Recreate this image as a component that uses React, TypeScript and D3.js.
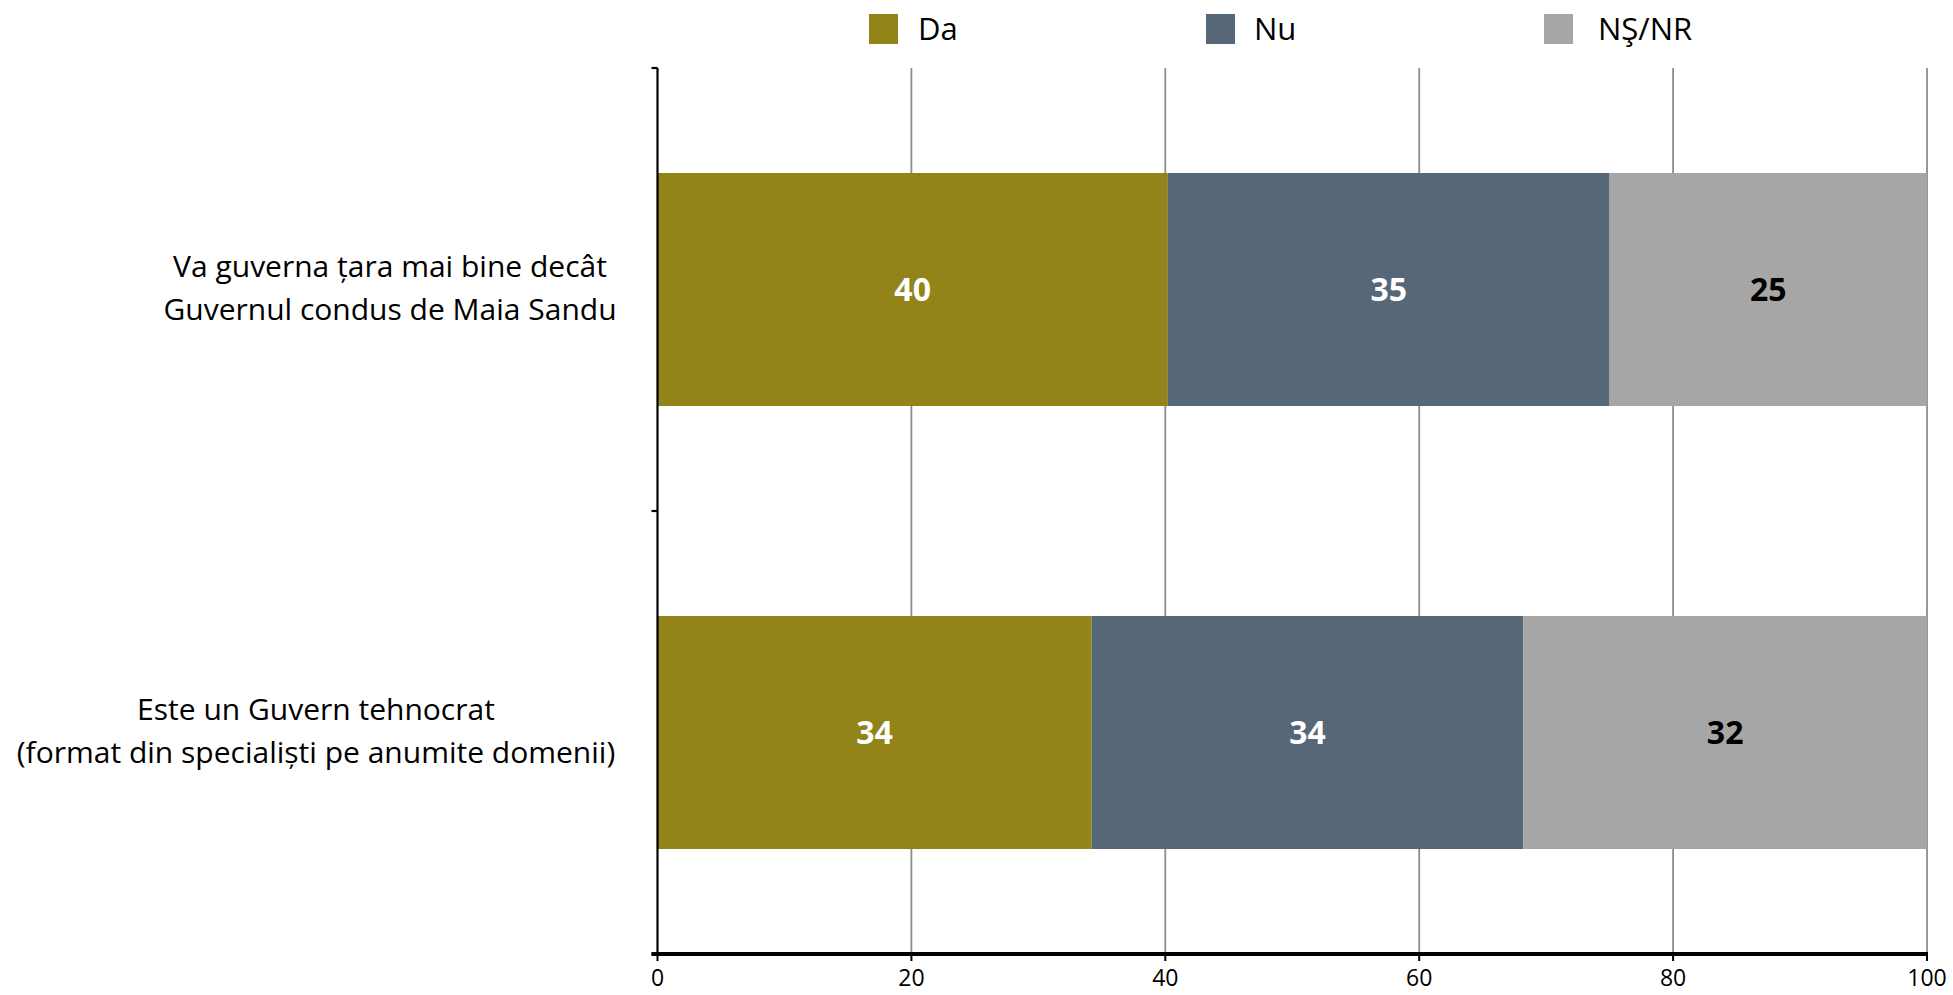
import React from "react";
import * as d3 from "d3";

const categories = [
  ["Va guverna țara mai bine decât", "Guvernul condus de Maia Sandu"],
  ["Este un Guvern tehnocrat", "(format din specialiști pe anumite domenii)"],
];
const seriesNames = ["Da", "Nu", "NŞ/NR"];
const daValues = [40.2, 34.2];
const nuValues = [34.8, 34.0];
const nsnrValues = [25.0, 31.8];
const xTicks = [0, 20, 40, 60, 80, 100];
const colors = ["#938419", "#566777", "#a6a6a6"];
const labelColors = ["#ffffff", "#ffffff", "#000000"];

const W = 1953;
const H = 995;
const FONT = "'Open Sans', 'Liberation Sans', sans-serif";

export default function App() {
  const left = 657.5;
  const right = 1927;
  const top = 68;
  const bottom = 954;

  const x = d3.scaleLinear().domain([0, 100]).range([left, right]);
  const y = d3
    .scaleBand<number>()
    .domain(categories.map((_, i) => i))
    .range([top, bottom])
    .paddingInner(0.474)
    .paddingOuter(0.237);

  const series = [daValues, nuValues, nsnrValues];
  const stackData = categories.map((_, i) => ({
    i,
    Da: daValues[i],
    Nu: nuValues[i],
    "NŞ/NR": nsnrValues[i],
  }));
  const stacked = d3.stack<any>().keys(seriesNames)(stackData);

  const legendX = [869, 1206, 1544];
  const legendTextX = [918, 1254, 1598];
  const sq = 29;

  const bandTicks = [top, (top + bottom) / 2, bottom];

  return (
    <svg
      width={W}
      height={H}
      style={{ position: "absolute", left: 0, top: 0, background: "#fff" }}
      fontFamily={FONT}
    >
      <rect width={W} height={H} fill="#fff" />
      {/* gridlines */}
      {xTicks.slice(1).map((t) => (
        <line
          key={"g" + t}
          x1={x(t)}
          x2={x(t)}
          y1={top}
          y2={bottom}
          stroke="#8c8c8c"
          strokeWidth={1.8}
        />
      ))}
      {/* bars */}
      {stacked.map((s, si) =>
        s.map((d, ci) => (
          <g key={si + "-" + ci}>
            <rect
              x={x(d[0])}
              y={y(ci)!}
              width={x(d[1]) - x(d[0])}
              height={y.bandwidth()}
              fill={colors[si]}
            />
            <text
              x={(x(d[0]) + x(d[1])) / 2}
              y={y(ci)! + y.bandwidth() / 2}
              dy="0.36em"
              textAnchor="middle"
              fontWeight="bold"
              fontSize={32}
              fill={labelColors[si]}
            >
              {d3.format(".0f")(series[si][ci])}
            </text>
          </g>
        ))
      )}
      {/* y axis */}
      <line x1={left} x2={left} y1={top} y2={bottom} stroke="#000" strokeWidth={2.2} />
      {bandTicks.map((t, i) => (
        <line key={"yt" + i} x1={left - 6} x2={left} y1={t} y2={t} stroke="#000" strokeWidth={2.2} />
      ))}
      {/* x axis */}
      <line x1={left - 6} x2={right + 1} y1={bottom} y2={bottom} stroke="#000" strokeWidth={4} />
      {xTicks.map((t) => (
        <g key={"xt" + t}>
          <line x1={x(t)} x2={x(t)} y1={bottom} y2={bottom + 7} stroke="#000" strokeWidth={2} />
          <text x={x(t)} y={978} dy="0.36em" textAnchor="middle" fontSize={23} fill="#000">
            {t}
          </text>
        </g>
      ))}
      {/* category labels */}
      {categories.map((lines, i) => {
        const cy = y(i)! + y.bandwidth() / 2;
        const cx = i === 0 ? 390 : 316;
        return (
          <text key={"c" + i} textAnchor="middle" fontSize={30} fill="#000">
            {lines.map((l, li) => (
              <tspan key={li} x={cx} y={cy - 2 + (li - 0.5) * 43} dy="0.36em">
                {l}
              </tspan>
            ))}
          </text>
        );
      })}
      {/* legend */}
      {seriesNames.map((n, i) => (
        <g key={"l" + i}>
          <rect x={legendX[i]} y={14} width={sq} height={30} fill={colors[i]} />
          <text x={legendTextX[i]} y={29} dy="0.36em" fontSize={31} fill="#000">
            {n}
          </text>
        </g>
      ))}
    </svg>
  );
}
